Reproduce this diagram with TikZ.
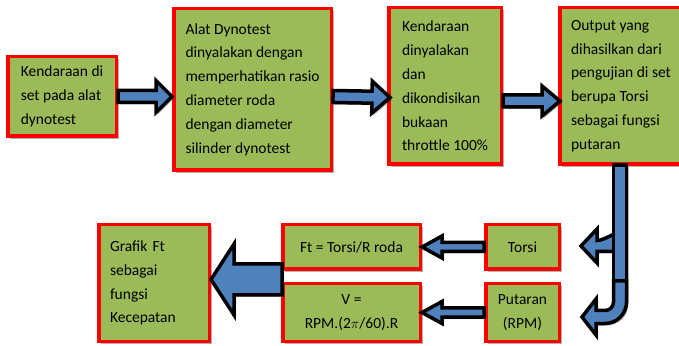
\documentclass[tikz,border=0pt]{standalone}
\usepackage{fontspec}
\setmainfont{Carlito}
\usetikzlibrary{calc,shadows}

\definecolor{boxgreen}{HTML}{9BBB59}
\definecolor{arrowblue}{HTML}{4F81BD}

\tikzset{
  stepbox/.style={draw=red, line width=3.5pt, fill=boxgreen, align=left, inner sep=0pt,
    font=\fontsize{15.5}{23.8}\selectfont,
    drop shadow={shadow xshift=2.5pt, shadow yshift=-2.5pt, opacity=0.3, fill=black}},
  blockarrow/.style={draw=black, line width=3.5pt, fill=arrowblue, line join=miter,
    drop shadow={shadow xshift=2pt, shadow yshift=-2pt, opacity=0.3, fill=black}}
}

\begin{document}
\begin{tikzpicture}[x=1pt,y=1pt]
                \useasboundingbox (0,0) rectangle (679,345);

                % top row
                \node[stepbox, minimum width=108.5pt, minimum height=79.5pt] (kendaraan) at (62,248.5)
                    {Kendaraan di\\set pada alat\\dynotest};
                \node[stepbox, minimum width=157.5pt, minimum height=161.5pt] (dynotest) at (252.5,255.5)
                    {Alat Dynotest\\dinyalakan dengan\\memperhatikan rasio\\diameter roda\\dengan diameter\\silinder dynotest};
                \node[stepbox, minimum width=112.5pt, minimum height=156.5pt] (throttle) at (445,259)
                    {Kendaraan\\dinyalakan\\dan\\dikondisikan\\bukaan\\throttle 100\%};
                \node[stepbox, minimum width=122.5pt, minimum height=156.5pt] (output) at (621,259)
                    {Output yang\\dihasilkan dari\\pengujian di set\\berupa Torsi\\sebagai fungsi\\putaran};

                % bottom row
                \node[stepbox, minimum width=110.5pt, minimum height=116.5pt, text width=88pt] (grafik) at (154,62)
                    {Grafik Ft\\sebagai\\fungsi\\Kecepatan};
                \node[stepbox, align=center, minimum width=137.5pt, minimum height=44.5pt] (ft) at (351.5,98)
                    {Ft = Torsi/R roda};
                \node[stepbox, align=center, minimum width=137.5pt, minimum height=57.5pt] (kecepatan) at (351.5,32.5)
                    {V =\\RPM.(2$\pi$/60).R};
                \node[stepbox, align=center, minimum width=73.5pt, minimum height=44.5pt] (torsi) at (522.5,98)
                    {Torsi};
                \node[stepbox, align=center, minimum width=73.5pt, minimum height=57.5pt] (putaran) at (522.5,32.5)
                    {Putaran\\(RPM)};

                % Draw a block arrow from #1 to #2, shaft half width #3, head half width #4, head length #5
                \def\blockArrow#1#2#3#4#5{
                    \coordinate (hb) at ($(#2)!#5!(#1)$);
                    \filldraw[blockarrow] ($(#1)!#3!90:(#2)$) -- ($(hb)!#3!90:(#2)$) -- ($(hb)!#4!90:(#2)$)
                        -- (#2) -- ($(hb)!#4!-90:(#2)$) -- ($(hb)!#3!-90:(#2)$) -- ($(#1)!#3!-90:(#2)$) -- cycle;
                }

                \coordinate (t1) at (kendaraan.east -| dynotest.west);
                \coordinate (s2) at (dynotest.east |- kendaraan.east);
                \coordinate (t2) at ($(throttle.west |- kendaraan.east)+(3,-1)$);
                \coordinate (s3) at ($(throttle.east)+(0,-15)$);
                \coordinate (t3) at ($(output.west)+(2,-15)$);
                \coordinate (split) at ($(ft.south west)!0.5!(kecepatan.north west)+(1,-3)$);
                \coordinate (t4) at (split -| grafik.east);

                \blockArrow{kendaraan.east}{t1}{6pt}{16pt}{16pt}
                \blockArrow{s2}{t2}{6pt}{16pt}{18pt}
                \blockArrow{s3}{t3}{6pt}{15pt}{18pt}
                \blockArrow{torsi.west}{ft.east}{4.5pt}{11pt}{20pt}
                \blockArrow{putaran.west}{kecepatan.east}{4.5pt}{11pt}{20pt}
                \blockArrow{split}{t4}{15.5pt}{35.5pt}{23pt}

                % split of the output into torsi and putaran
                \filldraw[blockarrow] (614,111) .. controls (606,107) and (601,104.5) .. (597,104.5)
                    -- (597,116) -- (581,99) -- (597,82) -- (597,93.5) -- (614,93.5) -- cycle;
                \filldraw[blockarrow] (613.5,64) -- (626.5,64) -- (626.5,43) arc[start angle=0, end angle=-90, radius=21.5]
                    -- (596,21.5) -- (596,10) -- (582,28) -- (596,46) -- (596,34.5) -- (605,34.5)
                    arc[start angle=-90, end angle=0, radius=8.5] -- cycle;
                \filldraw[blockarrow] ($(output.south)+(-7.5,1)$) rectangle ($(output.south)+(5.5,-114.5)$);
            \end{tikzpicture}
\end{document}
